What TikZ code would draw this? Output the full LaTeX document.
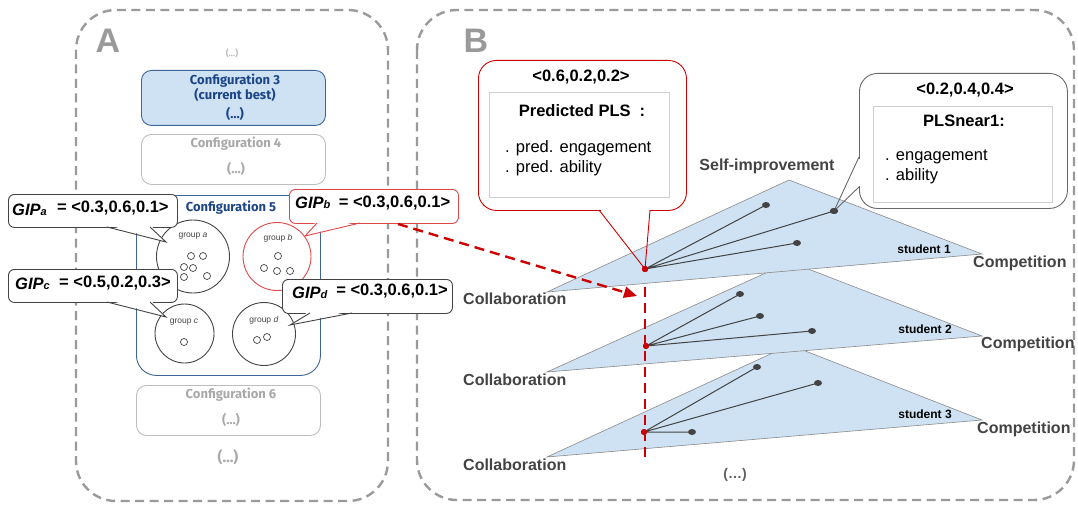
\documentclass[tikz,border=0pt]{standalone}
\usepackage{fontspec}
\setmainfont{Liberation Sans}
\newfontfamily\cfgf{Fira Sans}
\usetikzlibrary{arrows.meta,shapes.geometric}
\definecolor{pgray}{HTML}{9A9A9A}
\definecolor{cfgblue}{HTML}{CFE2F3}
\definecolor{cfgline}{HTML}{3D6599}
\definecolor{cfgtext}{HTML}{1C4587}
\definecolor{lgray}{HTML}{BDBDBD}
\definecolor{ltext}{HTML}{A8A8A8}
\definecolor{dred}{HTML}{CC0000}
\definecolor{bred}{HTML}{E04848}
\definecolor{dk}{HTML}{434343}
\definecolor{trifill}{HTML}{CFE2F3}
\definecolor{triline}{HTML}{8A8A8A}
\definecolor{inbox}{HTML}{D0D0D0}
\newcommand{\gipx}[1]{{\itshape GIP{\fontsize{11}{11}\selectfont #1}}}
\begin{document}
\begin{tikzpicture}[x=1pt,y=-1pt,
  panel/.style={draw=pgray, line width=2.4pt, dash pattern=on 9pt off 5.5pt, rounded corners=40pt},
  plbl/.style={text=pgray, font=\fontsize{34}{34}\selectfont\bfseries, inner sep=0pt},
  cfgt/.style={font=\cfgf\bfseries\fontsize{13}{14}\selectfont, inner sep=0pt, anchor=base},
  cbox/.style={draw=#1, line width=0.9pt, rounded corners=10pt, inner sep=0pt, anchor=north west},
  grp/.style={circle, draw=#1, line width=0.9pt, inner sep=0pt},
  glbl/.style={font=\fontsize{8.5}{9}\selectfont, text=dk, inner sep=0pt},
  stud/.style={circle, draw=dk, line width=0.7pt, minimum size=7pt, inner sep=0pt},
  cobox/.style={draw=#1, fill=white, line width=0.9pt, rounded corners=6pt, inner sep=0pt, anchor=north west},
  tail/.style={draw=#1, line width=0.9pt},
  giptxt/.style={font=\bfseries\fontsize{16.5}{17}\selectfont, inner sep=0pt, anchor=base west},
  tri/.style={fill=trifill, draw=triline, line width=0.6pt},
  spoke/.style={draw=dk, line width=1pt},
  sdot/.style={ellipse, fill=dk, minimum width=8pt, minimum height=6pt, inner sep=0pt},
  rdot/.style={circle, fill=dred, minimum size=6pt, inner sep=0pt},
  axlbl/.style={font=\bfseries\fontsize{16}{17}\selectfont, text=dk, inner sep=0pt, anchor=base west},
  studlbl/.style={font=\bfseries\fontsize{12}{13}\selectfont, inner sep=0pt, anchor=base},
  btxt/.style={font=\fontsize{16.5}{17}\selectfont, inner sep=0pt, anchor=base west},
  bbold/.style={font=\bfseries\fontsize{16.5}{17}\selectfont, inner sep=0pt, anchor=base},
  reddash/.style={draw=dred, line width=2.4pt, dash pattern=on 10pt off 6pt}
]
\useasboundingbox (0,0) rectangle (1078,508);

% ---------- panels ----------
\draw[panel] (76,10) rectangle (388,501);
\draw[panel] (417,10) rectangle (1074,500);
\node[plbl] (labA) at (108,41) {A};
\node[plbl] (labB) at (476,41) {B};

% ---------- panel A ----------
\node[cfgt, text=lgray, font=\cfgf\bfseries\fontsize{9}{10}\selectfont] (dotsA1) at (232,57) {(…)};

\node[cbox=cfgline, fill=cfgblue, minimum width=184pt, minimum height=55pt] (cfg3) at (141,70) {};
\node[cfgt, text=cfgtext] (cfg3a) at (235,84.5) {Configuration 3};
\node[cfgt, text=cfgtext] (cfg3b) at (235,99.5) {(current best)};
\node[cfgt, text=cfgtext] (cfg3c) at (235,119) {(…)};

\node[cbox=lgray, minimum width=184pt, minimum height=50pt] (cfg4) at (141,134) {};
\node[cfgt, text=ltext] (cfg4a) at (236,147.5) {Configuration 4};
\node[cfgt, text=ltext] (cfg4b) at (236,173) {(…)};

\node[cbox=cfgline, rounded corners=20pt, minimum width=184pt, minimum height=180pt] (cfg5) at (136,195) {};
\node[cfgt, text=cfgtext] (cfg5a) at (231,211.5) {Configuration 5};

\node[grp=dk, minimum size=73pt] (ga) at (193,256.5) {};
\node[grp=bred, minimum size=68pt] (gb) at (277,256.5) {};
\node[grp=dk, minimum size=59pt] (gc) at (184.5,333.5) {};
\node[grp=dk, minimum size=63pt] (gd) at (264,334) {};
\node[glbl] (gal) at (193,236) {group \textit{a}};
\node[glbl] (gbl) at (278,238) {group \textit{b}};
\node[glbl] (gcl) at (184,322) {group \textit{c}};
\node[glbl] (gdl) at (264,320) {group \textit{d}};
\node[stud] (sa1) at (191,256) {};
\node[stud] (sa2) at (203,256) {};
\node[stud] (sa3) at (184,267) {};
\node[stud] (sa4) at (193,268) {};
\node[stud] (sa5) at (184,277) {};
\node[stud] (sa6) at (207,276) {};
\node[stud] (sb1) at (278,256) {};
\node[stud] (sb2) at (264,268) {};
\node[stud] (sb3) at (277,271) {};
\node[stud] (sb4) at (290,271) {};
\node[stud] (sc1) at (184,342) {};
\node[stud] (sd1) at (257,340) {};
\node[stud] (sd2) at (267,337) {};

\node[cbox=lgray, minimum width=184pt, minimum height=50pt] (cfg6) at (136,385) {};
\node[cfgt, text=ltext] (cfg6a) at (231,398.5) {Configuration 6};
\node[cfgt, text=ltext] (cfg6b) at (231,424) {(…)};
\node[cfgt, text=ltext, font=\cfgf\bfseries\fontsize{15}{16}\selectfont] (dotsA2) at (228,462) {(…)};

% GIP callouts
\node[cobox=dk, minimum width=169pt, minimum height=33pt] (gipa) at (8,194) {};
\fill[white] (107,224.5) -- (166,242) -- (150,224.5) -- cycle;
\draw[tail=dk] (107,227) -- (166,242) -- (150,227);
\node[giptxt] (gipat) at (12,215) {\gipx{a}\hspace{10.4pt}\raisebox{2.5pt}{= <0.3,0.6,0.1>}};

\node[cobox=bred, minimum width=169pt, minimum height=34pt] (gipb) at (289,189) {};
\fill[white] (317,220.5) -- (305,236) -- (360,220.5) -- cycle;
\draw[tail=bred] (317,223) -- (305,236) -- (360,223);
\node[giptxt] (gipbt) at (295,208) {\gipx{b}\hspace{8.5pt}\raisebox{1pt}{= <0.3,0.6,0.1>}};

\node[cobox=dk, minimum width=169pt, minimum height=33pt] (gipc) at (8,269) {};
\fill[white] (107,299.5) -- (166,317) -- (150,299.5) -- cycle;
\draw[tail=dk] (107,302) -- (166,317) -- (150,302);
\node[giptxt] (gipct) at (15,289) {\gipx{c}\hspace{9.5pt}\raisebox{2pt}{= <0.5,0.2,0.3>}};

\node[cobox=dk, minimum width=170pt, minimum height=34pt] (gipd) at (282,279) {};
\fill[white] (310,310.5) -- (290,325) -- (352,310.5) -- cycle;
\draw[tail=dk] (310,313) -- (290,325) -- (352,313);
\node[giptxt] (gipdt) at (292,298) {\gipx{d}\hspace{9pt}\raisebox{3pt}{= <0.3,0.6,0.1>}};

% ---------- panel B: triangles ----------
% row 3
\coordinate (t3l) at (547,457); \coordinate (t3t) at (790,345); \coordinate (t3r) at (982,420);
\filldraw[tri] (t3l) -- (t3t) -- (t3r) -- cycle;
\node[rdot] (r3) at (644,432) {};
\node[sdot] (d31) at (757,367) {};
\node[sdot] (d32) at (818,383) {};
\node[sdot] (d33) at (692,432) {};
\draw[spoke] (r3.center) -- (d31.center) (r3.center) -- (d32.center) (r3.center) -- (d33.center);
\node[rdot] at (r3) {};
% row 2
\coordinate (t2l) at (547,372); \coordinate (t2t) at (790,262); \coordinate (t2r) at (982,336);
\filldraw[tri] (t2l) -- (t2t) -- (t2r) -- cycle;
\node[rdot] (r2) at (646,346) {};
\node[sdot] (d21) at (740,294) {};
\node[sdot] (d22) at (760,316) {};
\node[sdot] (d23) at (812,331) {};
\draw[spoke] (r2.center) -- (d21.center) (r2.center) -- (d22.center) (r2.center) -- (d23.center);
\node[rdot] at (r2) {};
% row 1
\coordinate (t1l) at (547,292); \coordinate (t1t) at (789,180); \coordinate (t1r) at (982,254);
\filldraw[tri] (t1l) -- (t1t) -- (t1r) -- cycle;
\node[rdot] (r1) at (645,269) {};
\node[sdot] (d11) at (766,205) {};
\node[sdot] (d12) at (834,211) {};
\node[sdot] (d13) at (797,243) {};
\draw[spoke] (r1.center) -- (d11.center) (r1.center) -- (d12.center) (r1.center) -- (d13.center);
\node[rdot] at (r1) {};

\node[studlbl] (st1) at (924,253) {student 1};
\node[studlbl] (st2) at (925,333) {student 2};
\node[studlbl] (st3) at (925,418) {student 3};

\node[axlbl] (col1) at (463,304) {Collaboration};
\node[axlbl] (col2) at (463,385) {Collaboration};
\node[axlbl] (col3) at (463,470) {Collaboration};
\node[axlbl] (com1) at (973,267) {Competition};
\node[axlbl] (com2) at (981,348) {Competition};
\node[axlbl] (com3) at (977,433) {Competition};
\node[axlbl, anchor=base] (self) at (767,170) {Self-improvement};
\node[axlbl, anchor=base, font=\bfseries\fontsize{14}{15}\selectfont, text=dk!85] (dotsB) at (735,478) {(…)};

% red dashed connectors
\coordinate (vtop) at (645,287);
\coordinate (vbot) at (645,463);
\draw[reddash] (vtop) -- (vbot);
\coordinate (arrs) at (398,224);
\coordinate (arre) at (637,296);
\draw[reddash, -{Triangle[length=13pt,width=11pt]}] (arrs) -- (arre);

% Predicted PLS callout
\node[cobox=dred, rounded corners=18pt, minimum width=208pt, minimum height=150pt] (pred) at (478,60) {};
\fill[white] (600.5,208) rectangle (649.5,211.5);
\draw[tail=dred] (599,210) -- (r1.center) -- (650,210);
\node[rdot] at (r1) {};
\node[draw=inbox, line width=0.9pt, anchor=north west, inner sep=0pt, minimum width=180pt, minimum height=105pt] (predin) at (489,92) {};
\node[bbold] (predv) at (581,82) {<0.6,0.2,0.2>};
\node[bbold] (predh) at (582,117) {Predicted PLS\hspace{9pt}:};
\node[btxt] (pred1) at (505,152) {. pred. engagement};
\node[btxt] (pred2) at (505,172) {. pred. ability};

% PLSnear1 callout
\node[cobox=dk!80, rounded corners=18pt, minimum width=208pt, minimum height=135pt] (near) at (859,73) {};
\fill[white] (857,158.5) rectangle (861,185.5);
\draw[tail=dk!80] (859,157) -- (d12.center) -- (859,187);
\node[sdot] at (d12) {};
\node[draw=inbox, line width=0.9pt, anchor=north west, inner sep=0pt, minimum width=179pt, minimum height=96pt] (nearin) at (873,106) {};
\node[bbold] (nearv) at (965,95) {<0.2,0.4,0.4>};
\node[bbold] (nearh) at (964,127) {PLSnear1:};
\node[btxt] (near1) at (885,160) {. engagement};
\node[btxt] (near2) at (885,180) {. ability};
\end{tikzpicture}
\end{document}
